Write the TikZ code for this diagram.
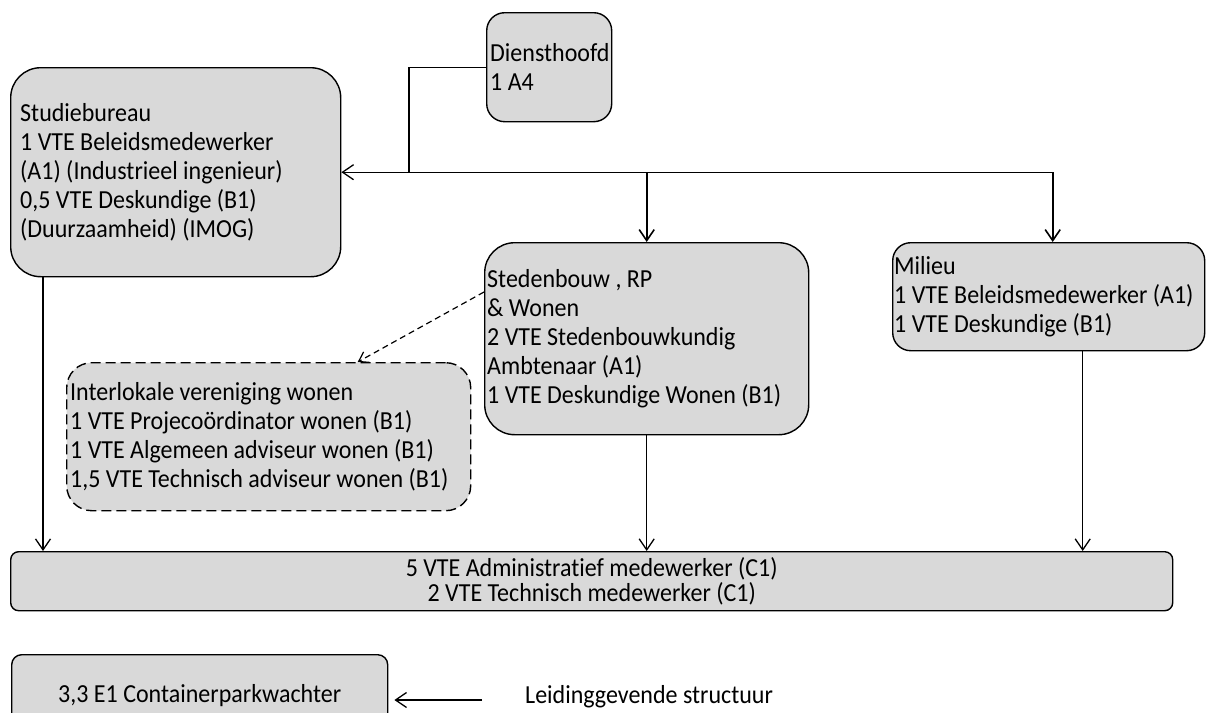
\documentclass[tikz,border=0pt]{standalone}
\usepackage{fontspec}
\setmainfont{Carlito}[FakeStretch=0.923,RawFeature=-liga]
\usetikzlibrary{arrows.meta,calc}
\definecolor{boxgray}{RGB}{217,217,217}
\begin{document}
\begin{tikzpicture}[x=1pt,y=-1pt,
  box/.style={draw=black, line width=1.4pt, fill=boxgray, anchor=north west, inner sep=0pt, rounded corners=#1},
  box/.default=18pt,
  dashedbox/.style={dash pattern=on 10pt off 5pt},
  txt/.style={anchor=west, align=left, inner sep=0pt, font=\fontsize{26}{29}\selectfont},
  ctxt/.style={align=center, inner sep=0pt, font=\fontsize{26}{25}\selectfont},
  ln/.style={line width=1.3pt},
  arr/.style={line width=1.3pt, -{Straight Barb[length=11pt,width=15pt]}},
  darr/.style={line width=1.2pt, dash pattern=on 6pt off 4pt, -{Straight Barb[length=9pt,width=12pt]}},
]
\useasboundingbox (0,0) rectangle (1206,712);

% boxes
\node[box=18pt, minimum width=125pt, minimum height=109pt] (dh) at (486,12) {};
\node[txt] (dht) at ([xshift=4pt]dh.west) {Diensthoofd\\1 A4};

\node[box=30pt, minimum width=330pt, minimum height=209pt] (sb) at (10,67) {};
\node[txt] (sbt) at ([xshift=10pt]sb.west) {Studiebureau\\1 VTE Beleidsmedewerker\\(A1) (Industrieel ingenieur)\\0,5 VTE Deskundige (B1)\\(Duurzaamheid) (IMOG)};

\node[box=30pt, minimum width=324pt, minimum height=192pt] (st) at (484,242) {};
\node[txt] (stt) at ([xshift=3pt]st.west) {Stedenbouw , RP\\\& Wonen\\2 VTE Stedenbouwkundig\\Ambtenaar (A1)\\1 VTE Deskundige Wonen (B1)};

\node[box=18pt, minimum width=312pt, minimum height=108pt] (mi) at (892,242) {};
\node[txt] (mit) at ([xshift=2pt]mi.west) {Milieu\\1 VTE Beleidsmedewerker (A1)\\1 VTE Deskundige (B1)};

\node[box=25pt, dashedbox, minimum width=404pt, minimum height=148pt] (il) at (66,362) {};
\node[txt] (ilt) at ([xshift=4pt]il.west) {Interlokale vereniging wonen\\1 VTE Projecoördinator wonen (B1)\\1 VTE Algemeen adviseur wonen (B1)\\1,5 VTE Technisch adviseur wonen (B1)};

\node[box=8pt, minimum width=1162pt, minimum height=59pt] (ad) at (10,551) {};
\node[ctxt] (adt) at (ad.center) {5 VTE Administratief medewerker (C1)\\2 VTE Technisch medewerker (C1)};

\node[box=10pt, minimum width=376pt, minimum height=82pt] (cp) at (11,654) {};
\node[ctxt] (cpt) at (cp.center) {3,3 E1 Containerparkwachter};

\node[txt] (lg) at (525,697) {Leidinggevende structuur};
\coordinate (lgs) at (482,700);
\draw[arr, shorten >=6pt] (lgs) -- (lgs -| cp.east);

% connectors from Diensthoofd
\coordinate (jx) at (409,0);
\coordinate (j) at (sb.east -| jx);
\coordinate (mtop) at ([xshift=4pt]mi.north);
\draw[arr] (dh.west) -| (j) -- (sb.east);
\draw[ln] (j) -- (j -| mtop);
\draw[arr, line width=1.6pt] (j -| st.north) -- (st.north);
\draw[arr, line width=1.6pt] (j -| mtop) -- (mtop);

% dashed link
\draw[darr] ([yshift=-50pt]st.north west) -- ([xshift=89pt]il.north);

% to the administrative box
\coordinate (b1) at ([xshift=33pt]sb.south west);
\coordinate (b3) at ([xshift=34pt]mi.south);
\draw[arr] (b1) -- (b1 |- ad.north);
\draw[arr] (st.south) -- (st.south |- ad.north);
\draw[arr] (b3) -- (b3 |- ad.north);
\end{tikzpicture}
\end{document}
